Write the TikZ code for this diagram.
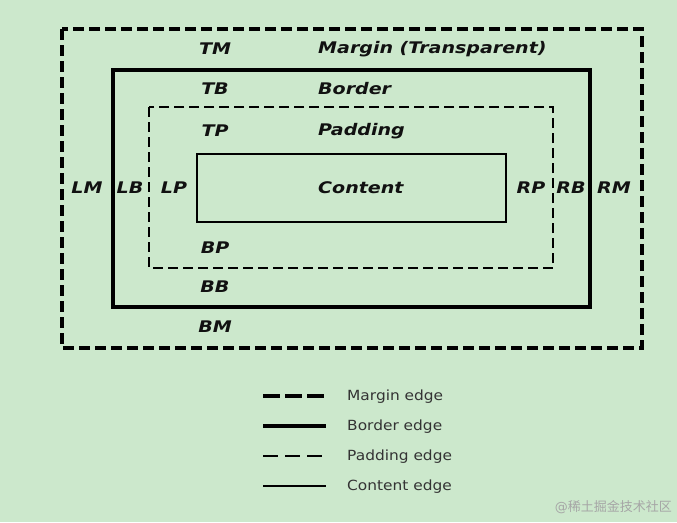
\documentclass[tikz,border=0pt]{standalone}
\usepackage{fontspec}
\setmainfont{DejaVu Sans}
\newfontfamily\lblfont[FakeStretch=1.19]{DejaVu Sans}
\newfontfamily\legfont[FakeStretch=1.1]{DejaVu Sans}
\newfontfamily\cjkfont{Noto Sans CJK SC}
\definecolor{bg}{HTML}{CCE8CC}
\definecolor{txt}{HTML}{111111}
\definecolor{legtxt}{HTML}{333333}
\begin{document}
\begin{tikzpicture}[x=1pt,y=-1pt,
  lbl/.style={font=\lblfont\fontsize{16}{18}\selectfont\bfseries\itshape, text=txt, inner sep=0pt},
  lblw/.style={lbl, anchor=west},
  legtext/.style={font=\legfont\fontsize{14}{16}\selectfont, text=legtxt, anchor=west, inner sep=0pt},
  marginedge/.style={line width=4pt, dash pattern=on 11pt off 5pt},
  borderedge/.style={line width=4pt},
  paddingedge/.style={line width=1.3pt, dash pattern=on 10pt off 5pt},
  contentedge/.style={line width=1.3pt}]
\fill[bg] (0,0) rectangle (677,522);
\useasboundingbox (0,0) rectangle (677,522);
% boxes
\draw[marginedge] (62,29) rectangle (642,348);
\draw[borderedge] (113,70) rectangle (590,307);
\draw[paddingedge] (149,107) rectangle (553,268);
\draw[contentedge] (197,154) rectangle (506,222);
% labels
\node[lbl] (tm) at (215,49) {TM};
\node[lblw] (mt) at (318,49) {Margin (Transparent)};
\node[lbl] (tb) at (215,89) {TB};
\node[lblw] (bt) at (318,89) {Border};
\node[lbl] (tp) at (215,131) {TP};
\node[lblw] (pt) at (318,131) {Padding};
\node[lblw] (ct) at (318,188) {Content};
\node[lbl] (bp) at (215,248) {BP};
\node[lbl] (bb) at (215,287) {BB};
\node[lbl] (bm) at (215,327) {BM};
\node[lbl] (lm) at (87,188) {LM};
\node[lbl] (lb) at (130,188) {LB};
\node[lbl] (lp) at (174,188) {LP};
\node[lbl] (rp) at (531,188) {RP};
\node[lbl] (rb) at (571,188) {RB};
\node[lbl] (rm) at (614,188) {RM};
% legend
\coordinate (l1a) at (263,396); \coordinate (l1b) at (326,396);
\coordinate (l2a) at (263,426); \coordinate (l2b) at (326,426);
\coordinate (l3a) at (263,456); \coordinate (l3b) at (326,456);
\coordinate (l4a) at (263,486); \coordinate (l4b) at (326,486);
\draw[line width=4pt, dash pattern=on 17pt off 5pt] (l1a) -- (l1b);
\draw[borderedge] (l2a) -- (l2b);
\draw[line width=1.3pt, dash pattern=on 15pt off 7pt] (l3a) -- (l3b);
\draw[contentedge] (l4a) -- (l4b);
\node[legtext] (le1) at (347,397) {Margin edge};
\node[legtext] (le2) at (347,427) {Border edge};
\node[legtext] (le3) at (347,457) {Padding edge};
\node[legtext] (le4) at (347,487) {Content edge};
% watermark
\node[anchor=east, inner sep=0pt, text=gray!70, font=\fontsize{13}{15}\selectfont] (wm) at (672,507) {@\cjkfont 稀土掘金技术社区};
\end{tikzpicture}
\end{document}
